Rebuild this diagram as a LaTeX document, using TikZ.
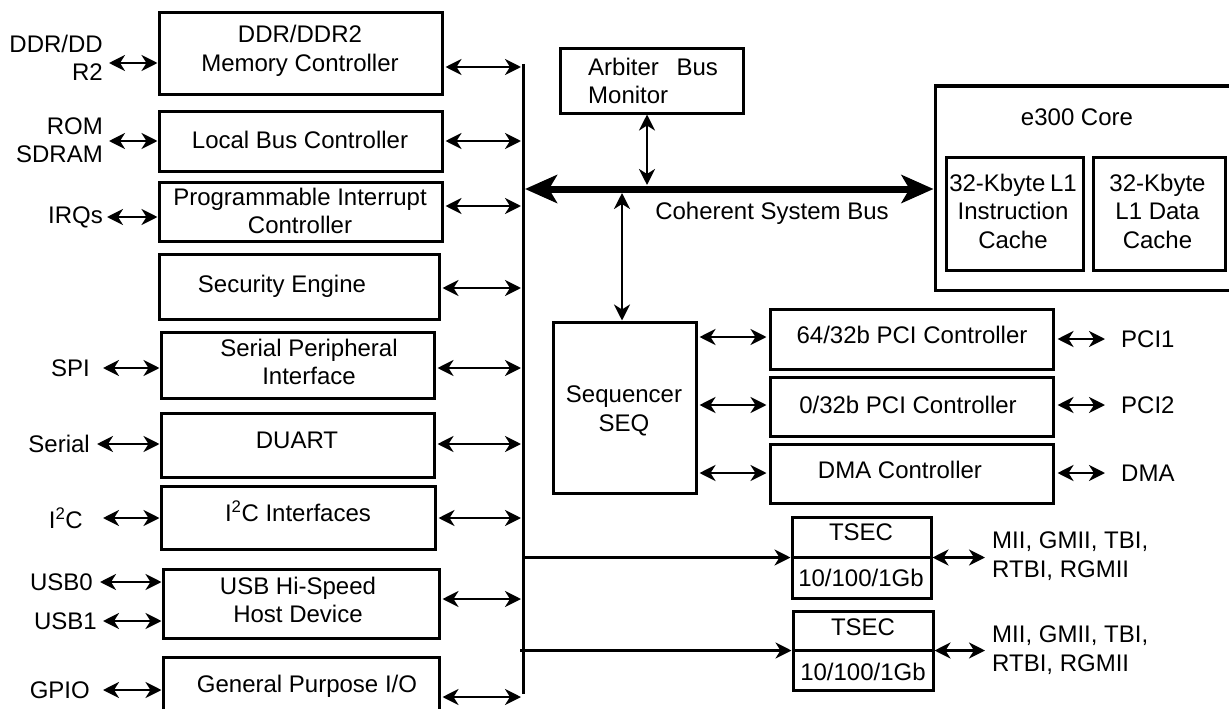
\documentclass[tikz,border=0pt]{standalone}
\usepackage{fontspec}
\setmainfont{Liberation Sans}
\usetikzlibrary{arrows.meta}
\begin{document}
\begin{tikzpicture}[x=1pt,y=-1pt,
  box/.style={draw, line width=3pt, inner sep=0pt},
  txt/.style={font=\fontsize{24}{28.5}\selectfont, align=center, inner sep=0pt},
  ltxt/.style={txt, align=right, anchor=east},
  rtxt/.style={txt, align=left, anchor=west},
  tip/.tip={Stealth[length=16pt,width=16pt,inset=5pt]},
  biarr/.style={line width=2.8pt, tip-tip},
  onearr/.style={line width=2.8pt, -tip},
  busarr/.style={line width=7pt, {Stealth[length=32pt,width=28pt,inset=8pt]}-{Stealth[length=32pt,width=28pt,inset=8pt]}},
]
\useasboundingbox (0,0) rectangle (1229,709);

% ---------- left column boxes ----------
\node[box, minimum width=283pt, minimum height=81pt] (ddr) at (300.5,53.5) {};
\node[box, minimum width=283pt, minimum height=60pt] (lbc) at (300.5,141) {};
\node[box, minimum width=283pt, minimum height=59pt] (pic) at (300.5,211.5) {};
\node[box, minimum width=280pt, minimum height=65pt] (se) at (299,286.5) {};
\node[box, minimum width=273pt, minimum height=66pt] (spi) at (297.5,365) {};
\node[box, minimum width=273pt, minimum height=64pt] (duart) at (297.5,445) {};
\node[box, minimum width=274pt, minimum height=63pt] (i2c) at (298,517.5) {};
\node[box, minimum width=276pt, minimum height=69pt] (usb) at (301,603.5) {};
\node[box, minimum width=276pt, minimum height=66pt] (gpio) at (301,690) {};

\node[txt] (ddrT) at (300,51) {DDR/DDR2\\Memory Controller};
\node[txt] (lbcT) at (300,140) {Local Bus Controller};
\node[txt] (picT) at (300,211) {Programmable Interrupt\\Controller};
\node[txt] (seT) at (282,286) {Security Engine};
\node[txt] (spiT) at (309,362) {Serial Peripheral\\Interface};
\node[txt] (duartT) at (297,440) {DUART};
\node[txt] (i2cT) at (298,511) {I\textsuperscript{2}C Interfaces};
\node[txt] (usbT) at (298,600) {USB Hi-Speed\\Host Device};
\node[txt] (gpioT) at (307,686) {General Purpose I/O};

% ---------- left labels ----------
\node[ltxt] (ddrL) at (103,58) {DDR/DD\\R2};
\node[ltxt] (lbcL) at (103,140) {ROM\\SDRAM};
\node[ltxt] (picL) at (103,217) {IRQs};
\node[ltxt] (spiL) at (90,368) {SPI};
\node[ltxt] (duartL) at (90,444) {Serial};
\node[ltxt] (i2cL) at (83,518) {I\textsuperscript{2}C};
\node[ltxt] (usb0L) at (93,582) {USB0};
\node[ltxt] (usb1L) at (97,621) {USB1};
\node[ltxt] (gpioL) at (90,690) {GPIO};

\coordinate (ddrA) at (109,63);
\coordinate (lbcA) at (109,141);
\coordinate (picA) at (107,217);
\coordinate (spiA) at (103,368);
\coordinate (duartA) at (97,444);
\coordinate (i2cA) at (103,518);
\coordinate (usb0A) at (100,582);
\coordinate (usb1A) at (103,621);
\coordinate (gpioA) at (103,690);
\draw[biarr] (ddrA) -- (ddr.west |- ddrA);
\draw[biarr] (lbcA) -- (lbc.west |- lbcA);
\draw[biarr] (picA) -- (pic.west |- picA);
\draw[biarr] (spiA) -- (spi.west |- spiA);
\draw[biarr] (duartA) -- (duart.west |- duartA);
\draw[biarr] (i2cA) -- (i2c.west |- i2cA);
\draw[biarr] (usb0A) -- (usb.west |- usb0A);
\draw[biarr] (usb1A) -- (usb.west |- usb1A);
\draw[biarr] (gpioA) -- (gpio.west |- gpioA);

% ---------- vertical bus ----------
\coordinate (bustop) at (523,64);
\coordinate (busbot) at (523,694);
\draw[line width=3pt] (bustop) -- (busbot);

\coordinate (ddrB) at (521,67);
\coordinate (lbcB) at (521,141);
\coordinate (picB) at (521,206);
\coordinate (seB) at (521,288);
\coordinate (spiB) at (521,368);
\coordinate (duartB) at (521,444);
\coordinate (i2cB) at (521,518);
\coordinate (usbB) at (521,599);
\coordinate (gpioB) at (521,697);
\draw[biarr, shorten <=2pt] (ddr.east |- ddrB) -- (ddrB);
\draw[biarr, shorten <=2pt] (lbc.east |- lbcB) -- (lbcB);
\draw[biarr, shorten <=2pt] (pic.east |- picB) -- (picB);
\draw[biarr, shorten <=2pt] (se.east |- seB) -- (seB);
\draw[biarr, shorten <=2pt] (spi.east |- spiB) -- (spiB);
\draw[biarr, shorten <=2pt] (duart.east |- duartB) -- (duartB);
\draw[biarr, shorten <=2pt] (i2c.east |- i2cB) -- (i2cB);
\draw[biarr, shorten <=2pt] (usb.east |- usbB) -- (usbB);
\draw[biarr, shorten <=2pt] (gpio.east |- gpioB) -- (gpioB);

% ---------- arbiter, core ----------
\node[box, minimum width=183pt, minimum height=64pt] (arb) at (651.5,81) {};
\node[txt, align=left, anchor=west] (arbT) at (588,81) {Arbiter\hspace{11pt} Bus\\Monitor};

\node[box, minimum width=325pt, minimum height=204pt] (e300) at (1097.5,188) {};
\node[txt] (e300T) at (1077,117) {e300 Core};
\node[box, minimum width=137pt, minimum height=113pt] (ic) at (1014.5,213.5) {};
\node[box, minimum width=132pt, minimum height=113pt] (dc) at (1159,213.5) {};
\node[txt] (icT) at (1013,211) {32-Kbyte\hspace{-2pt} L1\\Instruction\\Cache};
\node[txt] (dcT) at (1157.5,211) {32-Kbyte\\L1 Data\\Cache};

% coherent system bus
\coordinate (csbL) at (525,189);
\draw[busarr] (csbL) -- (e300.west |- csbL);
\node[txt] (csbT) at (772,213) {Coherent System Bus};

\coordinate (arbbus) at (647,185);
\draw[biarr] (arb.south -| arbbus) -- (arbbus);

% ---------- sequencer & controllers ----------
\node[box, minimum width=143pt, minimum height=171pt] (seq) at (624.5,407.5) {};
\node[txt] (seqT) at (624,411) {Sequencer\\SEQ};
\coordinate (seqbus) at (622,193);
\draw[biarr] (seqbus) -- (seq.north -| seqbus);

\node[box, minimum width=283pt, minimum height=60pt] (pci1) at (911.5,339) {};
\node[box, minimum width=283pt, minimum height=59pt] (pci2) at (911.5,406.5) {};
\node[box, minimum width=283pt, minimum height=59pt] (dma) at (911.5,473.5) {};
\node[txt] (pci1T) at (912,335) {64/32b PCI Controller};
\node[txt] (pci2T) at (908,405) {0/32b PCI Controller};
\node[txt] (dmaT) at (900,470) {DMA Controller};

\coordinate (s1) at (0,337);
\coordinate (s2) at (0,405);
\coordinate (s3) at (0,473);
\draw[biarr, shorten <=2pt, shorten >=2pt] (seq.east |- s1) -- (pci1.west |- s1);
\draw[biarr, shorten <=2pt, shorten >=2pt] (seq.east |- s2) -- (pci2.west |- s2);
\draw[biarr, shorten <=2pt, shorten >=2pt] (seq.east |- s3) -- (dma.west |- s3);

\node[rtxt] (pci1L) at (1121,339) {PCI1};
\node[rtxt] (pci2L) at (1121,405) {PCI2};
\node[rtxt] (dmaL) at (1121,473) {DMA};
\draw[biarr, shorten <=3pt, shorten >=16pt] (pci1.east) -- (pci1L.west);
\draw[biarr, shorten <=3pt, shorten >=16pt] (pci2.east |- pci2L) -- (pci2L.west);
\draw[biarr, shorten <=3pt, shorten >=16pt] (dma.east |- dmaL) -- (dmaL.west);

% ---------- TSEC ----------
\node[box, minimum width=139pt, minimum height=81pt] (tsec1) at (861.5,557.5) {};
\draw[line width=3pt] (tsec1.west) -- (tsec1.east);
\node[txt] (tsec1a) at (861,532) {TSEC};
\node[txt] (tsec1b) at (861,578) {10/100/1Gb};

\node[box, minimum width=140pt, minimum height=79pt] (tsec2) at (863,650.5) {};
\draw[line width=3pt] (tsec2.west) -- (tsec2.east);
\node[txt] (tsec2a) at (863,627) {TSEC};
\node[txt] (tsec2b) at (863,672) {10/100/1Gb};

\coordinate (t1bus) at (523,557.5);
\coordinate (t2bus) at (520,650.5);
\draw[onearr] (t1bus) -- (tsec1.west);
\draw[onearr] (t2bus) -- (tsec2.west);

\node[rtxt] (m1) at (992,556) {MII, GMII, TBI,\\RTBI, RGMII};
\node[rtxt] (m2) at (992,650) {MII, GMII, TBI,\\RTBI, RGMII};
\draw[biarr, shorten >=7pt] (tsec1.east) -- (m1.west |- tsec1.east);
\draw[biarr, shorten >=7pt] (tsec2.east) -- (m2.west |- tsec2.east);
\end{tikzpicture}
\end{document}
